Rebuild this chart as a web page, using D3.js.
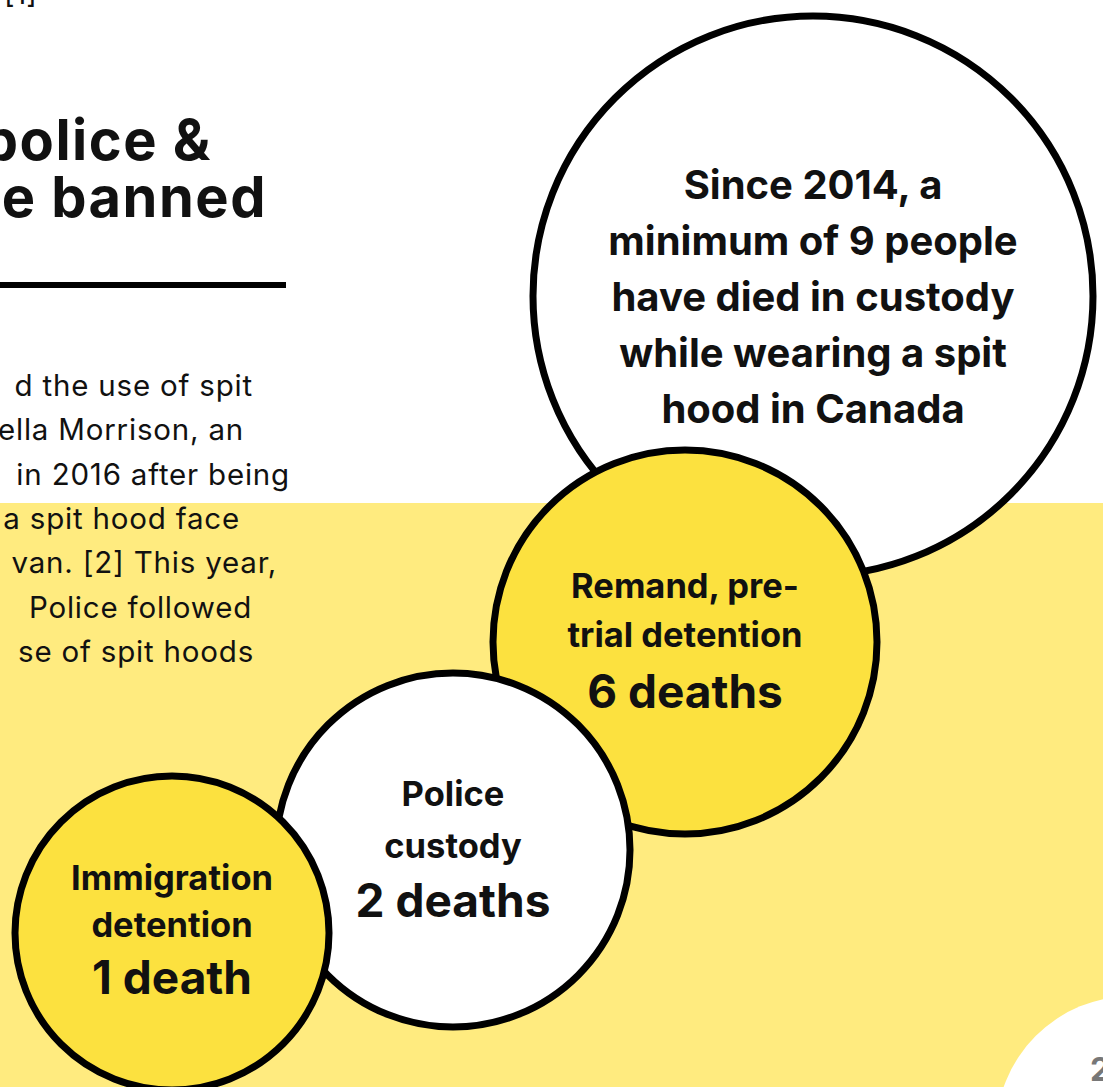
<!DOCTYPE html>
<html>
<head>
<meta charset="utf-8">
<script src="https://cdn.jsdelivr.net/npm/d3@7"></script>
<style>
  html, body { margin: 0; padding: 0; background: #fff; }
  svg { display: block; font-family: Inter, "Noto Sans", sans-serif; }
</style>
</head>
<body>
<div class="graphic"></div>
<script>
// deaths in custody while wearing a spit hood, since 2014
var settings = ['Immigration detention', 'Police custody', 'Remand, pre-trial detention'];
var deaths = [1, 2, 6];
var total = 9;
var settingLines = [['Immigration', 'detention'], ['Police', 'custody'], ['Remand, pre-', 'trial detention']];
var deathLabels = ['1 death', '2 deaths', '6 deaths'];
var totalLines = ['Since 2014, a', 'minimum of 9 people', 'have died in custody', 'while wearing a spit', 'hood in Canada'];

var titleLines = ['police &', 'e banned'];
var bodyLines = ['d the use of spit', 'ella Morrison, an', 'in 2016 after being', 'a spit hood face',
	'van. [2] This year,', ' Police followed', 'se of spit hoods'];

var width = 1103;
var height = 1087;

var svg = d3.select('.graphic').append('svg')
	.attr('width', width)
	.attr('height', height)
	.attr('viewBox', `0 0 ${width} ${height}`);

// page background: white top, yellow band below
svg.append('rect').attr('x', 0).attr('y', 0).attr('width', width).attr('height', height).attr('fill', '#fff');
svg.append('rect').attr('x', 0).attr('y', 503).attr('width', width).attr('height', height - 503).attr('fill', '#ffeb7f');

// left column text (cropped by the page edge)
svg.append('text').attr('x', 4).attr('y', 4)
	.attr('font-size', 29).attr('fill', '#111').text('[1]');

svg.selectAll('.title')
	.data(titleLines)
	.enter()
	.append('text')
	.attr('class', 'title')
	.attr('x', function(d, i) { return i ? 267 : 212; })
	.attr('y', function(d, i) { return 160 + i * 57; })
	.attr('text-anchor', 'end')
	.attr('font-size', 56)
	.attr('font-weight', 700)
	.attr('letter-spacing', 1.5)
	.attr('fill', '#111')
	.text(function(d) { return d; });

svg.append('rect').attr('x', 0).attr('y', 282).attr('width', 286).attr('height', 6).attr('fill', '#000');

var bodyRight = [253, 244, 290, 240, 277, 252, 254];
svg.selectAll('.body')
	.data(bodyLines)
	.enter()
	.append('text')
	.attr('class', 'body')
	.attr('x', function(d, i) { return bodyRight[i]; })
	.attr('y', function(d, i) { return 396 + i * 44.3; })
	.attr('text-anchor', 'end')
	.attr('font-size', 29.5)
	.attr('letter-spacing', 0.8)
	.attr('fill', '#111')
	.style('white-space', 'pre')
	.text(function(d) { return d; });

// bubbles: laid out by death count
var values = deaths.concat([total]);
var cx = d3.scaleLinear().domain([1, 2, 6, 9]).range([172, 453, 685, 813]);
var cy = d3.scaleLinear().domain([1, 2, 6, 9]).range([933, 850, 642, 296]);
var r = d3.scaleLinear().domain([1, 2, 6, 9]).range([157, 177, 192, 280]);
var fills = ['#fce13f', '#ffffff', '#fce13f', '#ffffff'];

// bottom-right page corner badge
svg.append('circle').attr('cx', 1132).attr('cy', 1132).attr('r', 136).attr('fill', '#fff');
svg.append('text').attr('x', 1090).attr('y', 1081).attr('font-size', 32).attr('font-weight', 700)
	.attr('fill', '#777').text('2');

var bubbles = svg.selectAll('.bubble')
	.data(values.slice().reverse())
	.enter()
	.append('g')
	.attr('class', 'bubble')
	.attr('transform', function(d) { return `translate(${cx(d)},${cy(d)})`; });

bubbles.append('circle')
	.attr('r', function(d) { return r(d); })
	.attr('fill', function(d) { return fills[values.indexOf(d)]; })
	.attr('stroke', '#000')
	.attr('stroke-width', 7);

bubbles.each(function(d) {
	var g = d3.select(this);
	var i = values.indexOf(d);
	if (d === total) {
		g.selectAll('text')
			.data(totalLines)
			.enter()
			.append('text')
			.attr('y', function(t, j) { return -97 + j * 56; })
			.attr('text-anchor', 'middle')
			.attr('font-size', 40)
			.attr('font-weight', 700)
			.attr('fill', '#111')
			.text(function(t) { return t; });
		return;
	}
	var offs = [[-43, 4, 61], [-44, 8, 67], [-44, 5, 66]][i];
	g.selectAll('text.lbl')
		.data(settingLines[i])
		.enter()
		.append('text')
		.attr('class', 'lbl')
		.attr('y', function(t, j) { return offs[j]; })
		.attr('text-anchor', 'middle')
		.attr('font-size', 34.5)
		.attr('font-weight', 700)
		.attr('fill', '#111')
		.text(function(t) { return t; });
	g.append('text')
		.attr('y', offs[2])
		.attr('text-anchor', 'middle')
		.attr('font-size', 46)
		.attr('font-weight', 700)
		.attr('fill', '#111')
		.text(deathLabels[i]);
});
</script>
</body>
</html>
